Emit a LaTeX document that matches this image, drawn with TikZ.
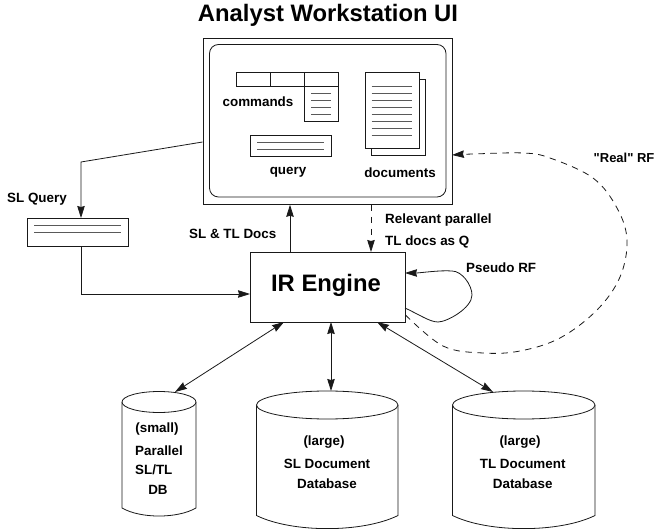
\documentclass[tikz,border=0pt]{standalone}
\usepackage{fontspec}
\setmainfont{Liberation Sans}
\newfontfamily\rawsans{Liberation Sans}
\usetikzlibrary{arrows.meta}
\tikzset{
  ln/.style={line width=0.8pt,black!90},
  arr/.style={ln,-{Stealth[length=12pt,width=7.5pt,inset=1pt]}},
  darr/.style={ln,{Stealth[length=12pt,width=7.5pt,inset=1pt]}-{Stealth[length=12pt,width=7.5pt,inset=1pt]}},
  dsh/.style={dash pattern=on 6.5pt off 5.5pt},
  rule/.style={line width=0.75pt,black!65},
  lab/.style={font=\fontsize{13.4pt}{15pt}\selectfont\bfseries,inner sep=0pt,text=black},
  labw/.style={lab,anchor=west},
  big/.style={font=\fontsize{23.8pt}{26pt}\selectfont\bfseries,inner sep=0pt,text=black},
  boxn/.style={ln,draw,inner sep=0pt,anchor=north west},
}
% left right ry centre-y side-end bottom-rise
\newcommand{\cyl}[6]{%
  \draw[ln,fill=white] (#1,#4) -- (#1,#5) .. controls ({#1+(#2-#1)*0.25},{#5+#6}) and ({#2-(#2-#1)*0.25},{#5+#6}) .. (#2,#5) -- (#2,#4);
  \draw[ln,fill=white] ({(#1+#2)/2},#4) ellipse ({(#2-#1)/2} and #3);
}
\begin{document}
\begin{tikzpicture}[x=1pt,y=-1pt]
\useasboundingbox (0,0) rectangle (656,529);
% title
\node[big] (title) at (328,15.5) {Analyst Workstation UI};
% workstation
\node[boxn,minimum width=249.5pt,minimum height=166pt] (ui) at (202.5,38) {};
\draw[ln,rounded corners=9pt] (209.5,44.5) rectangle (446,197);
% menu
\draw[ln] (236,72.5) rectangle (338,86.5);
\draw[ln] (270,72.5) -- (270,86.5) (304,72.5) -- (304,121) -- (338,121) -- (338,86.5);
\foreach \y in {93,100,107,114} \draw[rule] (311,\y) -- (331,\y);
\node[lab] (cmd) at (258,102) {commands};
% query box
\node[boxn,minimum width=81pt,minimum height=21pt] (qbox) at (250,135) {};
\foreach \y in {142,149} \draw[rule] (257,\y) -- (324,\y);
\node[lab] (qlab) at (288,172.5) {query};
% documents
\draw[ln] (419,79.5) -- (425.5,79.5) -- (425.5,155.5) -- (371.5,155.5) -- (371.5,148.5);
\node[boxn,minimum width=54.5pt,minimum height=76pt] (doc) at (364.5,72.5) {};
\foreach \y in {86,93,100,107,114,121,128,135} \draw[rule] (371.5,\y) -- (412,\y);
\node[lab] (dlab) at (400,172.5) {documents};
% IR engine
\node[boxn,minimum width=155pt,minimum height=70pt] (ir) at (250,252) {};
\node[big] (irlab) at (326,285) {IR Engine};
% SL query box
\node[boxn,minimum width=101pt,minimum height=28pt] (slq) at (27,218) {};
\foreach \y in {225,232} \draw[rule] (34,\y) -- (121,\y);
\node[labw] (slqlab) at (7,199.5) {SL Query};
% cylinders
\cyl{122}{196}{10.5}{402}{508}{10.7}
\cyl{256.5}{398}{14}{405}{515.5}{17.5}
\cyl{452.5}{595}{14}{405}{515.5}{17.5}
\coordinate (dba) at (175,392);
\coordinate (dbb) at (331,391);
\coordinate (dbc) at (493,392);
% connectors
\coordinate (a1) at (202.5,142);
\coordinate (a2) at (81,162);
\coordinate (b1) at (81,294);
\draw[arr] (a1) -- (a2) -- (a2 |- slq.north);
\draw[arr] (a2 |- slq.south) -- (b1) -- (b1 -| ir.west);
\coordinate (c1) at (290,252);
\coordinate (c2) at (371,252);
\draw[arr] (c1 |- ir.north) -- (c1 |- ui.south);
\draw[arr,dsh] (c2 |- ui.south) -- (c2 |- ir.north);
\coordinate (i1) at (284,322);
\coordinate (i2) at (331,322);
\coordinate (i3) at (377,322);
\draw[darr] (i1) -- (dba);
\draw[darr] (i2) -- (dbb);
\draw[darr] (i3) -- (dbc);
% pseudo RF
\coordinate (p1) at (405,308);
\coordinate (p2) at (405,273);
\draw[arr] (p1) .. controls (420,315) and (430,322) .. (438,322)
  .. controls (447,322) and (472,308) .. (472,295)
  .. controls (472,285) and (462,271) .. (452,271)
  .. controls (440,270) and (420,273) .. (p2);
% real RF
\coordinate (r1) at (405.5,315);
\coordinate (r2) at (452,155);
\draw[arr,dsh] plot[smooth,tension=0.6] coordinates {(r1) (443,346) (483,353) (520,351) (560,338) (597,310) (620,277) (627,240) (617,208) (593,178) (550,158) (523,153) (473,154) (r2)};
% labels
\node[labw] (l1) at (189,234) {SL \& TL Docs};
\node[labw] (l2) at (385,220.5) {Relevant parallel};
\node[labw] (l3) at (385,242) {TL docs as Q};
\node[labw] (l4) at (466,268) {Pseudo RF};
\node[labw,font=\fontsize{13pt}{15pt}\selectfont\bfseries] (l5) at (593.5,157.5) {\rawsans "Real" RF};
\node[lab] (s1) at (157,429) {(small)};
\node[labw] (s2) at (135,450.5) {Parallel};
\node[labw] (s3) at (135,469.5) {SL/TL};
\node[lab] (s4) at (158,490) {DB};
\node[lab] (m1) at (324,442.5) {(large)};
\node[lab] (m2) at (327,463.5) {SL Document};
\node[lab] (m3) at (327,483.5) {Database};
\node[lab] (t1) at (520,442.5) {(large)};
\node[lab] (t2) at (522.7,463.5) {TL Document};
\node[lab] (t3) at (522.7,483.5) {Database};
\end{tikzpicture}
\end{document}
